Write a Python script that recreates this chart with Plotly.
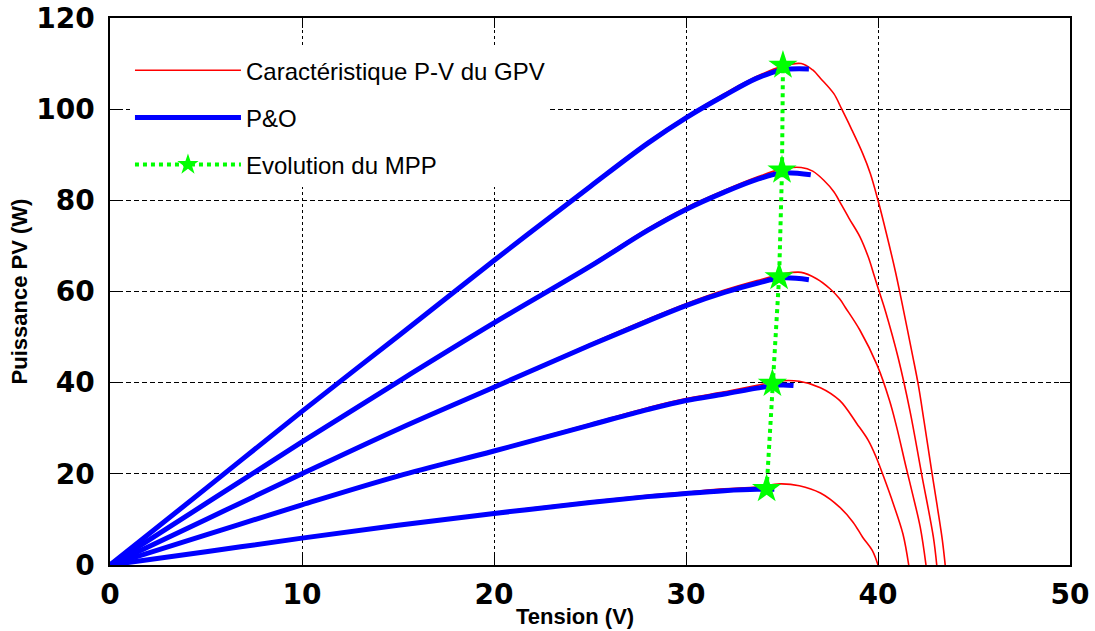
import plotly.graph_objects as go

# ---------------- data ----------------
red1_v = [0, 5, 10, 15, 20, 25, 28, 30, 32, 33.7, 35, 36, 36.6, 37, 37.7, 38.1, 38.6, 39.2, 39.6, 40, 40.45, 40.9, 41.25, 41.8, 42.1, 42.4, 42.8, 43.1, 43.35, 43.5]
red1_p = [0, 17, 33.9, 50.4, 67, 83.3, 92.8, 98.4, 103.4, 107.2, 109.4, 110, 108.6, 106.8, 103.4, 100.1, 95.8, 90.3, 85.9, 80, 72.5, 64.5, 57.5, 46, 39.5, 31.5, 20.5, 12.5, 5.5, 0]

red2_v = [0, 5, 10, 15, 20, 25, 28, 30, 32, 33.7, 35, 36, 36.6, 37.2, 37.7, 38.1, 38.5, 39.06, 39.5, 39.8, 40.1, 40.4, 41.06, 41.67, 42.27, 42.88, 43.06]
red2_p = [0, 13.6, 27.2, 40.4, 53.3, 65.8, 73.8, 78.4, 82.2, 85.1, 86.9, 87.2, 86.4, 84.3, 81.9, 79, 76, 72, 67.5, 63.5, 59.5, 55.5, 45.3, 33.7, 20, 6.2, 0]

red3_v = [0, 5, 10, 15, 20, 25, 28, 30, 32, 33.7, 35, 36, 36.8, 37.5, 38, 38.3, 39.06, 39.96, 40.6, 40.97, 41.46, 41.8, 42.2, 42.5]
red3_p = [0, 10.1, 20.2, 30, 39.2, 48.5, 53.9, 57.3, 60.3, 62.4, 63.8, 64.2, 62.8, 60.6, 58.4, 56.5, 51.5, 43.8, 36.1, 30.3, 21.5, 15.6, 8.3, 0]

red4_v = [0, 5, 10, 15, 20, 25, 28, 30, 32, 33.7, 34.9, 35.9, 37, 38, 38.9, 39.5, 39.9, 40.3, 40.8, 41.3, 41.6]
red4_p = [0, 6.7, 13.4, 19.7, 25.2, 31, 34.5, 36.5, 38, 39.4, 40.4, 40.3, 38.9, 36.1, 31, 27.3, 23.7, 19.3, 13.4, 6.8, 0]

red5_v = [0, 5, 10, 15, 20, 25, 28, 30, 32, 33.7, 34.9, 35.9, 37, 38, 38.7, 39.2, 39.7, 40]
red5_p = [0, 3, 6, 8.9, 11.5, 14, 15.3, 16, 16.7, 17.1, 17.8, 17.4, 15.8, 12.7, 9.4, 6.1, 3.2, 0]

blue1_v = [0, 5, 10, 15, 20, 25, 28, 30, 32, 33.7, 35, 36.4]
blue1_p = [0, 16.8, 33.7, 50.2, 66.8, 83, 92.5, 98.1, 103, 106.8, 108.6, 108.8]
blue2_v = [0, 5, 10, 15, 20, 25, 28, 30, 32, 33.7, 35, 36.5]
blue2_p = [0, 13.5, 27, 40.2, 53.1, 65.5, 73.4, 78, 81.8, 84.6, 86, 85.6]
blue3_v = [0, 5, 10, 15, 20, 25, 28, 30, 32, 33.7, 35, 36.4]
blue3_p = [0, 10, 20, 29.8, 39, 48.2, 53.5, 56.9, 59.8, 61.8, 63, 62.6]
blue4_v = [0, 5, 10, 15, 20, 25, 28, 30, 32, 33.7, 34.9, 35.6]
blue4_p = [0, 6.6, 13.2, 19.5, 25, 30.7, 34.1, 36.1, 37.5, 38.8, 39.5, 39.4]
blue5_v = [0, 5, 10, 15, 20, 25, 28, 30, 32, 33.7, 34.6]
blue5_p = [0, 2.9, 5.9, 8.7, 11.3, 13.7, 15, 15.7, 16.3, 16.6, 16.6]

mpp_v = [34.2, 34.5, 34.85, 35.0, 35.05]
mpp_p = [16.7, 39.8, 63.2, 86.6, 109.6]

red_curves = [(red1_v, red1_p), (red2_v, red2_p), (red3_v, red3_p), (red4_v, red4_p), (red5_v, red5_p)]
blue_curves = [(blue1_v, blue1_p), (blue2_v, blue2_p), (blue3_v, blue3_p), (blue4_v, blue4_p), (blue5_v, blue5_p)]

x_ticks = [0, 10, 20, 30, 40, 50]
y_ticks = [0, 20, 40, 60, 80, 100, 120]

label_red = "Caractéristique P-V du GPV"
label_blue = "P&O"
label_green = "Evolution du MPP"
x_title = "Tension (V)"
y_title = "Puissance PV (W)"

# ---------------- figure ----------------
fig = go.Figure()

for i, (v, p) in enumerate(red_curves):
    fig.add_trace(go.Scatter(x=v, y=p, mode="lines",
                             line=dict(color="#ff0000", width=1.6, shape="spline", smoothing=1.0),
                             name=label_red, legendgroup="red", showlegend=(i == 0)))
for i, (v, p) in enumerate(blue_curves):
    fig.add_trace(go.Scatter(x=v, y=p, mode="lines",
                             line=dict(color="#0000ff", width=5, shape="spline", smoothing=1.0),
                             name=label_blue, legendgroup="blue", showlegend=(i == 0)))

fig.add_trace(go.Scatter(x=mpp_v, y=mpp_p, mode="lines+markers",
                         line=dict(color="#00ff00", width=4, dash="dot"),
                         marker=dict(symbol="star", size=22, color="#00ff00", line=dict(width=0)),
                         name=label_green, legendgroup="green"))

tickfont = dict(family="DejaVu Sans", size=28, color="black", weight="bold")
titlefont = dict(family="Liberation Sans", size=22, color="black", weight="bold")

fig.update_layout(
    width=1095, height=631,
    margin=dict(l=110, r=25, t=18, b=66),
    paper_bgcolor="white", plot_bgcolor="white",
    showlegend=True,
    legend=dict(x=0.0208, y=0.945, xanchor="left", yanchor="top",
                bgcolor="white", borderwidth=0,
                font=dict(family="Liberation Sans", size=24, color="black"),
                itemwidth=106, traceorder="grouped", tracegroupgap=13),
    xaxis=dict(range=[0, 50], tickvals=x_ticks, ticks="inside", ticklen=10, tickwidth=1,
               tickcolor="black", showline=True, linecolor="black", linewidth=1.5, mirror="ticks",
               showgrid=True, gridcolor="black", gridwidth=1, griddash="3px,3px",
               zeroline=False, tickfont=tickfont, ticklabelstandoff=4, automargin=False),
    yaxis=dict(range=[0, 120], tickvals=y_ticks, ticks="inside", ticklen=10, tickwidth=1,
               tickcolor="black", showline=True, linecolor="black", linewidth=1.5, mirror="ticks",
               showgrid=True, gridcolor="black", gridwidth=1, griddash="5px,3px",
               zeroline=False, tickfont=tickfont, ticklabelstandoff=8, automargin=False,
               title=dict(text=y_title, font=titlefont, standoff=2)),
    annotations=[dict(text=x_title, font=titlefont, xref="paper", yref="paper",
                      x=0.484, y=-0.095, xanchor="center", yanchor="middle", showarrow=False)],
)

fig.write_html("out.html")
